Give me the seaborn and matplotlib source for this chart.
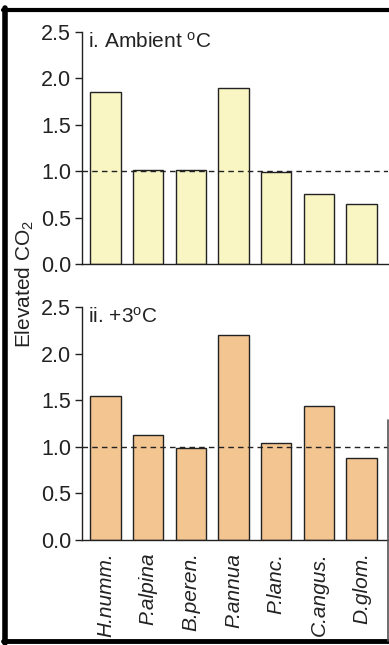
import matplotlib
matplotlib.use("Agg")
import matplotlib.pyplot as plt
from matplotlib.lines import Line2D
import seaborn as sns
import pandas as pd

species = ["H.numm.", "P.alpina", "B.peren.", "P.annua", "P.lanc.", "C.angus.", "D.glom."]
ambient = [1.85, 1.01, 1.01, 1.90, 0.99, 0.75, 0.65]
warmed = [1.55, 1.13, 0.99, 2.20, 1.04, 1.44, 0.88]
yticks = [0.0, 0.5, 1.0, 1.5, 2.0, 2.5]
panel_titles = [r"i. Ambient $^{\mathregular{o}}$C", r"ii. +3$^{\mathregular{o}}$C"]
colors = ["#f9f6c4", "#f3c591"]

sns.set_theme(style="white")
plt.rcParams["font.family"] = ["Liberation Sans", "DejaVu Sans"]
plt.rcParams["mathtext.fontset"] = "custom"
plt.rcParams["mathtext.rm"] = "Liberation Sans"
plt.rcParams["mathtext.it"] = "Liberation Sans:italic"

W, H = 389, 645
fig = plt.figure(figsize=(W / 100, H / 100), dpi=100)
fig.patch.set_facecolor("white")

def fx(px):
    return px / W

def fy(py):
    return 1 - py / H

ax_top = fig.add_axes([fx(82), fy(264), fx(388) - fx(82), fy(32) - fy(264)])
ax_bot = fig.add_axes([fx(82), fy(540), fx(388) - fx(82), fy(307) - fy(540)])

for ax, vals, title, col in [(ax_top, ambient, panel_titles[0], colors[0]),
                             (ax_bot, warmed, panel_titles[1], colors[1])]:
    df = pd.DataFrame({"species": species, "ratio": vals})
    sns.barplot(data=df, x="species", y="ratio", color=col, saturation=1,
                edgecolor="#222222", linewidth=1.0, width=0.71, ax=ax, zorder=2)
    ax.axhline(1.0, color="#222222", lw=1.0, ls=(0, (4, 3)), zorder=3)
    ax.set_ylim(0, 2.5)
    ax.set_xlim(-0.55, 6.62)
    ax.set_yticks(yticks)
    ax.set_yticklabels([f"{v:.1f}" for v in yticks], fontsize=15.5)
    ax.set_xlabel("")
    ax.set_ylabel("")
    for s in ["top", "right"]:
        ax.spines[s].set_visible(False)
    for s in ["left", "bottom"]:
        ax.spines[s].set_color("#222222")
        ax.spines[s].set_linewidth(1.0)
    ax.tick_params(axis="y", direction="out", length=5, width=1, color="#222222",
                   left=True, pad=3, labelcolor="#222222")
    ax.tick_params(axis="x", length=0)
    ax.text(0.018, 1.0, title, transform=ax.transAxes, ha="left", va="top",
            fontsize=15, color="#222222")
    ax.set_facecolor("white")

ax_top.set_xticklabels([])
ax_bot.set_xticks(range(len(species)))
ax_bot.set_xticklabels(species, rotation=90, fontsize=15, style="italic",
                       color="#222222", va="top", ha="center")
ax_bot.tick_params(axis="x", pad=9)

fig.text(fx(25), fy(284), r"Elevated CO$_2$", rotation=90, ha="center", va="center",
         fontsize=15, color="#222222")

# frame
fig.add_artist(Line2D([fx(5), fx(5)], [fy(8), fy(643)], color="black", lw=4))
fig.add_artist(Line2D([fx(3), fx(389)], [fy(10), fy(10)], color="black", lw=3))
fig.add_artist(Line2D([fx(3), fx(389)], [fy(641), fy(641)], color="black", lw=3.5))
fig.add_artist(Line2D([fx(388), fx(388)], [fy(420), fy(641)], color="#555555", lw=1.2))

fig.savefig("out.png", dpi=100)
